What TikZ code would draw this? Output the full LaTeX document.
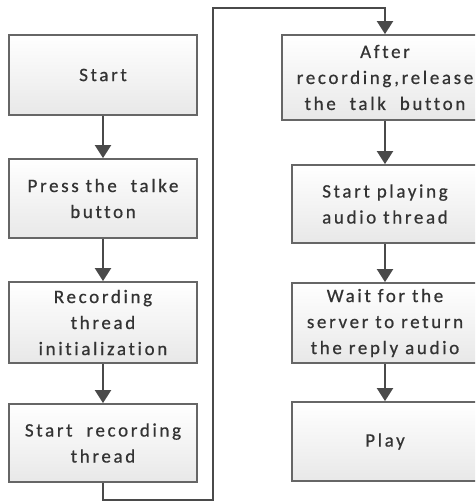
\documentclass[tikz,border=0pt]{standalone}
\usepackage{fontspec}
\newfontfamily\boxfont{Carlito}[LetterSpace=14, FakeBold=0.6, Ligatures={NoCommon}]
\usetikzlibrary{arrows.meta}
\definecolor{boxline}{HTML}{666666}
\definecolor{flowline}{HTML}{4A4A4A}
\definecolor{boxtext}{HTML}{333333}
\begin{document}
\begin{tikzpicture}[x=1pt,y=-1pt,
  stepbox/.style={draw=boxline, line width=1.8pt, rectangle, top color=white, bottom color=black!9,
    minimum width=188pt, align=center, text=boxtext, font=\boxfont\fontsize{19}{26}\selectfont, inner sep=0pt},
  flow/.style={draw=flowline, line width=2pt, -{Triangle[width=16pt,length=13pt]}}]
\useasboundingbox (0,0) rectangle (475,503);
\clip (0,0) rectangle (475,503);
\fill[white] (0,0) rectangle (475,503);
% left column
\node[stepbox, minimum height=80pt] (start) at (103,75) {Start};
\node[stepbox, minimum height=79pt] (press) at (103,198.5) {Press the\ \ talke\\button};
\node[stepbox, minimum height=81pt] (init) at (103,322.5) {Recording\\thread\\initialization};
\node[stepbox, minimum height=78pt] (rec) at (103,443) {Start\ \ recording\\thread};
% right column
\node[stepbox, minimum height=85pt, minimum width=206pt] (release) at (385,77.5) {After\\recording,release\\the\ \ talk\ \ button};
\node[stepbox, minimum height=78pt, minimum width=186pt] (playthr) at (385,204) {Start playing\\audio thread};
\node[stepbox, minimum height=80pt, minimum width=186pt] (wait) at (385,323) {Wait for the\\server to return\\the reply audio};
\node[stepbox, minimum height=79pt, minimum width=186pt] (play) at (385,441.5) {Play};
% connectors
\draw[flow] (start) -- (press);
\draw[flow] (press) -- (init);
\draw[flow] (init) -- (rec);
\draw[flow] (rec.south) -- ++(0,17) -| (213,8) -| (release.north);
\draw[flow] (release) -- (playthr);
\draw[flow] (playthr) -- (wait);
\draw[flow] (wait) -- (play);
\end{tikzpicture}
\end{document}
